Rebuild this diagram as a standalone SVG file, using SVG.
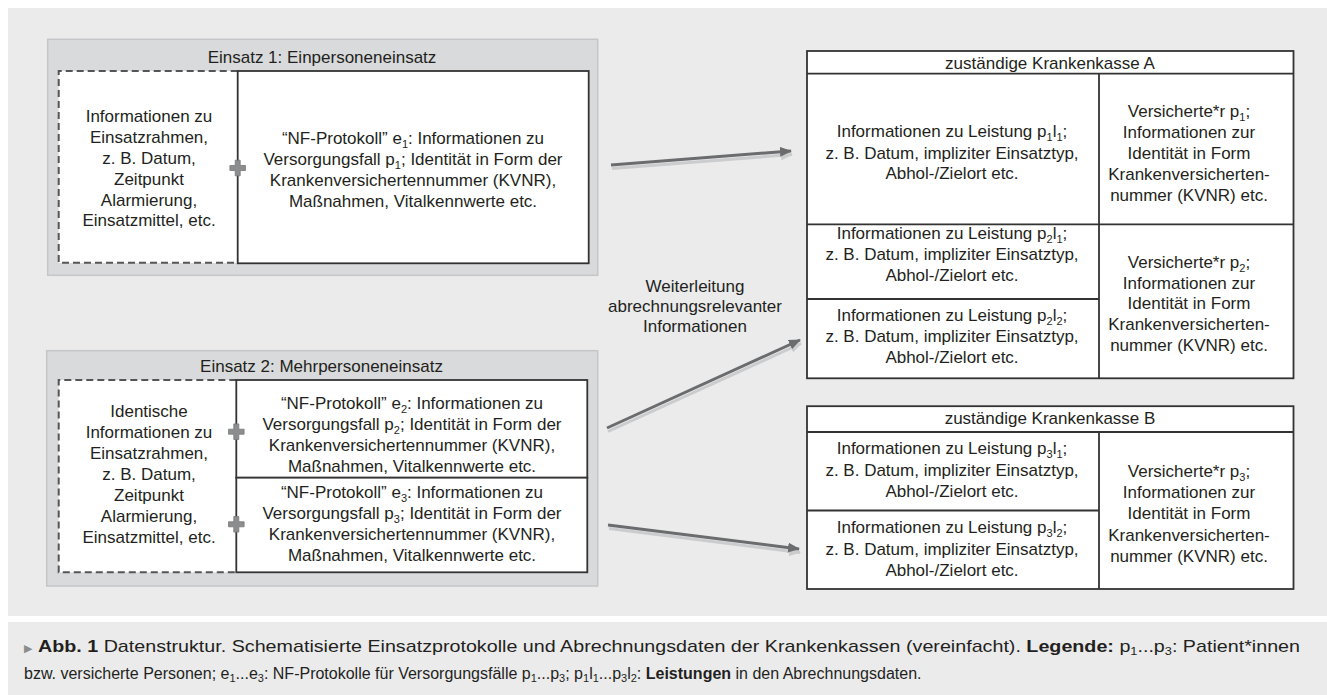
<svg xmlns="http://www.w3.org/2000/svg" width="1327" height="695" viewBox="0 0 1327 695">
<style>
.t{font-family:'Liberation Sans',Arial,sans-serif;font-size:17px;fill:#231f20;text-anchor:middle}
.c{font-family:'Liberation Sans',Arial,sans-serif;font-size:17px;fill:#231f20}
.c2{font-family:'Liberation Sans',Arial,sans-serif;font-size:16px;fill:#231f20}
.b{font-weight:bold}
.s{font-size:11px}
.outer{fill:#d9dadb;stroke:#c5c6c8;stroke-width:1.5}
.cell{fill:#fff;stroke:#333;stroke-width:1.8}
.dash{fill:none;stroke:#555;stroke-width:2;stroke-dasharray:7 4}
.ln{stroke:#333;stroke-width:1.8;fill:none}
.plus{fill:#8c8d8f;stroke:#77787a;stroke-width:0.8}
.arr{stroke:#6b6c6e;stroke-width:3;fill:none}
.sh{stroke:#cbcccd;stroke-width:3;fill:none}
</style>
<defs>
<marker id="ah" markerUnits="userSpaceOnUse" markerWidth="12" markerHeight="10" refX="11" refY="5" orient="auto"><path d="M0,0 L12,5 L0,10 z" fill="#6b6c6e"/></marker>
<marker id="ahs" markerUnits="userSpaceOnUse" markerWidth="12" markerHeight="10" refX="11" refY="5" orient="auto"><path d="M0,0 L12,5 L0,10 z" fill="#cbcccd"/></marker>
</defs>
<rect x="0" y="0" width="1327" height="695" fill="#fff"/>
<rect x="8" y="8" width="1319" height="608" fill="#ebebec"/>
<rect x="8" y="622" width="1319" height="73" fill="#ebebec"/>

<g id="einsatz1">
<rect class="outer" x="47.7" y="39.3" width="550" height="236"/>
<text class="t" x="322" y="63">Einsatz 1: Einpersoneneinsatz</text>
<rect x="58.7" y="71" width="179" height="192" fill="#fff"/>
<path class="dash" d="M237.7,71 H58.7 V262.7 H237.7"/>
<rect class="cell" x="237.7" y="71" width="351" height="192.3"/>
<text class="t" x="149" y="122.3">Informationen zu</text>
<text class="t" x="149" y="143.1">Einsatzrahmen,</text>
<text class="t" x="149" y="163.9">z. B. Datum,</text>
<text class="t" x="149" y="184.7">Zeitpunkt</text>
<text class="t" x="149" y="205.5">Alarmierung,</text>
<text class="t" x="149" y="226.3">Einsatzmittel, etc.</text>
<text class="t" x="413" y="144">“NF-Protokoll” e<tspan class="s" dy="4">1</tspan><tspan dy="-4">: Informationen zu</tspan></text>
<text class="t" x="413" y="165">Versorgungsfall p<tspan class="s" dy="4">1</tspan><tspan dy="-4">; Identität in Form der</tspan></text>
<text class="t" x="413" y="186">Krankenversichertennummer (KVNR),</text>
<text class="t" x="413" y="207">Maßnahmen, Vitalkennwerte etc.</text>
<path class="plus" d="M235.2,160.2 h5 v5.3 h5.3 v5 h-5.3 v5.3 h-5 v-5.3 h-5.3 v-5 h5.3 z"/>
</g>

<g id="einsatz2">
<rect class="outer" x="46.7" y="350.7" width="551" height="235.3"/>
<text class="t" x="321.5" y="371.7">Einsatz 2: Mehrpersoneneinsatz</text>
<rect x="58.7" y="380" width="177.6" height="192.3" fill="#fff"/>
<path class="dash" d="M236.3,380 H58.7 V572.3 H236.3"/>
<rect class="cell" x="236.3" y="380" width="351" height="97.7"/>
<rect class="cell" x="236.3" y="477.7" width="351" height="94.6"/>
<text class="t" x="149" y="417.3">Identische</text>
<text class="t" x="149" y="438.2">Informationen zu</text>
<text class="t" x="149" y="459.1">Einsatzrahmen,</text>
<text class="t" x="149" y="480">z. B. Datum,</text>
<text class="t" x="149" y="500.9">Zeitpunkt</text>
<text class="t" x="149" y="521.8">Alarmierung,</text>
<text class="t" x="149" y="542.7">Einsatzmittel, etc.</text>
<text class="t" x="412" y="409">“NF-Protokoll” e<tspan class="s" dy="4">2</tspan><tspan dy="-4">: Informationen zu</tspan></text>
<text class="t" x="412" y="430">Versorgungsfall p<tspan class="s" dy="4">2</tspan><tspan dy="-4">; Identität in Form der</tspan></text>
<text class="t" x="412" y="451">Krankenversichertennummer (KVNR),</text>
<text class="t" x="412" y="471.5">Maßnahmen, Vitalkennwerte etc.</text>
<text class="t" x="412" y="498.3">“NF-Protokoll” e<tspan class="s" dy="4">3</tspan><tspan dy="-4">: Informationen zu</tspan></text>
<text class="t" x="412" y="519.3">Versorgungsfall p<tspan class="s" dy="4">3</tspan><tspan dy="-4">; Identität in Form der</tspan></text>
<text class="t" x="412" y="540">Krankenversichertennummer (KVNR),</text>
<text class="t" x="412" y="560.7">Maßnahmen, Vitalkennwerte etc.</text>
<path class="plus" d="M233.8,423.9 h5 v5.3 h5.3 v5 h-5.3 v5.3 h-5 v-5.3 h-5.3 v-5 h5.3 z"/>
<path class="plus" d="M233.8,516.5 h5 v5.3 h5.3 v5 h-5.3 v5.3 h-5 v-5.3 h-5.3 v-5 h5.3 z"/>
</g>

<g id="kasseA">
<rect class="cell" x="807" y="51" width="486.5" height="327.3"/>
<path class="ln" d="M807,73.7 H1293.5 M1099,73.7 V378.3 M807,224.3 H1293.5 M807,299 H1099"/>
<text class="t" x="1050" y="68.5">zuständige Krankenkasse A</text>
<text class="t" x="952" y="137.3">Informationen zu Leistung p<tspan class="s" dy="4">1</tspan><tspan dy="-4">l</tspan><tspan class="s" dy="4">1</tspan><tspan dy="-4">;</tspan></text>
<text class="t" x="952" y="158.6">z. B. Datum, impliziter Einsatztyp,</text>
<text class="t" x="952" y="179.3">Abhol-/Zielort etc.</text>
<text class="t" x="952" y="239.3">Informationen zu Leistung p<tspan class="s" dy="4">2</tspan><tspan dy="-4">l</tspan><tspan class="s" dy="4">1</tspan><tspan dy="-4">;</tspan></text>
<text class="t" x="952" y="260">z. B. Datum, impliziter Einsatztyp,</text>
<text class="t" x="952" y="280.7">Abhol-/Zielort etc.</text>
<text class="t" x="952" y="320.7">Informationen zu Leistung p<tspan class="s" dy="4">2</tspan><tspan dy="-4">l</tspan><tspan class="s" dy="4">2</tspan><tspan dy="-4">;</tspan></text>
<text class="t" x="952" y="341.6">z. B. Datum, impliziter Einsatztyp,</text>
<text class="t" x="952" y="362.5">Abhol-/Zielort etc.</text>
<text class="t" x="1189" y="117.3">Versicherte*r p<tspan class="s" dy="4">1</tspan><tspan dy="-4">;</tspan></text>
<text class="t" x="1189" y="138.3">Informationen zur</text>
<text class="t" x="1189" y="159.3">Identität in Form</text>
<text class="t" x="1189" y="180">Krankenversicherten-</text>
<text class="t" x="1189" y="200.7">nummer (KVNR) etc.</text>
<text class="t" x="1189" y="267.7">Versicherte*r p<tspan class="s" dy="4">2</tspan><tspan dy="-4">;</tspan></text>
<text class="t" x="1189" y="288.5">Informationen zur</text>
<text class="t" x="1189" y="309.3">Identität in Form</text>
<text class="t" x="1189" y="330.1">Krankenversicherten-</text>
<text class="t" x="1189" y="350.9">nummer (KVNR) etc.</text>
</g>

<g id="kasseB">
<rect class="cell" x="807" y="406.2" width="486.5" height="182.8"/>
<path class="ln" d="M807,432 H1293.5 M1099,432 V589 M807,510.5 H1099"/>
<text class="t" x="1050" y="424.3">zuständige Krankenkasse B</text>
<text class="t" x="952" y="454.3">Informationen zu Leistung p<tspan class="s" dy="4">3</tspan><tspan dy="-4">l</tspan><tspan class="s" dy="4">1</tspan><tspan dy="-4">;</tspan></text>
<text class="t" x="952" y="475.6">z. B. Datum, impliziter Einsatztyp,</text>
<text class="t" x="952" y="496.9">Abhol-/Zielort etc.</text>
<text class="t" x="952" y="533.3">Informationen zu Leistung p<tspan class="s" dy="4">3</tspan><tspan dy="-4">l</tspan><tspan class="s" dy="4">2</tspan><tspan dy="-4">;</tspan></text>
<text class="t" x="952" y="554.6">z. B. Datum, impliziter Einsatztyp,</text>
<text class="t" x="952" y="575.9">Abhol-/Zielort etc.</text>
<text class="t" x="1189" y="477">Versicherte*r p<tspan class="s" dy="4">3</tspan><tspan dy="-4">;</tspan></text>
<text class="t" x="1189" y="498.2">Informationen zur</text>
<text class="t" x="1189" y="519.4">Identität in Form</text>
<text class="t" x="1189" y="540.6">Krankenversicherten-</text>
<text class="t" x="1189" y="561.8">nummer (KVNR) etc.</text>
</g>

<g id="connectors">
<line class="sh" x1="612" y1="168.5" x2="792" y2="154.5" marker-end="url(#ahs)"/>
<line class="sh" x1="608" y1="431.5" x2="801" y2="343.5" marker-end="url(#ahs)"/>
<line class="sh" x1="609" y1="528.5" x2="800" y2="552.5" marker-end="url(#ahs)"/>
<line class="arr" x1="611" y1="165" x2="791" y2="151" marker-end="url(#ah)"/>
<line class="arr" x1="607" y1="428" x2="800" y2="340" marker-end="url(#ah)"/>
<line class="arr" x1="608" y1="525" x2="799" y2="549" marker-end="url(#ah)"/>
</g>

<g id="label">
<text class="t" x="695" y="291.7">Weiterleitung</text>
<text class="t" x="695" y="312">abrechnungsrelevanter</text>
<text class="t" x="695" y="332.3">Informationen</text>
</g>

<g id="caption">
<text x="24" y="652" style="font-family:'DejaVu Sans',sans-serif;font-size:11px;fill:#8a8b8d">▶</text>
<text class="c" x="38" y="652" textLength="1262" lengthAdjust="spacingAndGlyphs"><tspan class="b">Abb. 1</tspan>  Datenstruktur. Schematisierte Einsatzprotokolle und Abrechnungsdaten der Krankenkassen (vereinfacht). <tspan class="b">Legende:</tspan> p<tspan class="s" dy="3">1</tspan><tspan dy="-3">...p</tspan><tspan class="s" dy="3">3</tspan><tspan dy="-3">: Patient*innen</tspan></text>
<text class="c2" x="24" y="679">bzw. versicherte Personen; e<tspan class="s" dy="3">1</tspan><tspan dy="-3">...e</tspan><tspan class="s" dy="3">3</tspan><tspan dy="-3">: NF-Protokolle für Versorgungsfälle p</tspan><tspan class="s" dy="3">1</tspan><tspan dy="-3">...p</tspan><tspan class="s" dy="3">3</tspan><tspan dy="-3">; p</tspan><tspan class="s" dy="3">1</tspan><tspan dy="-3">l</tspan><tspan class="s" dy="3">1</tspan><tspan dy="-3">...p</tspan><tspan class="s" dy="3">3</tspan><tspan dy="-3">l</tspan><tspan class="s" dy="3">2</tspan><tspan dy="-3">: </tspan><tspan class="b">Leistungen</tspan> in den Abrechnungsdaten.</text>
</g>
</svg>
